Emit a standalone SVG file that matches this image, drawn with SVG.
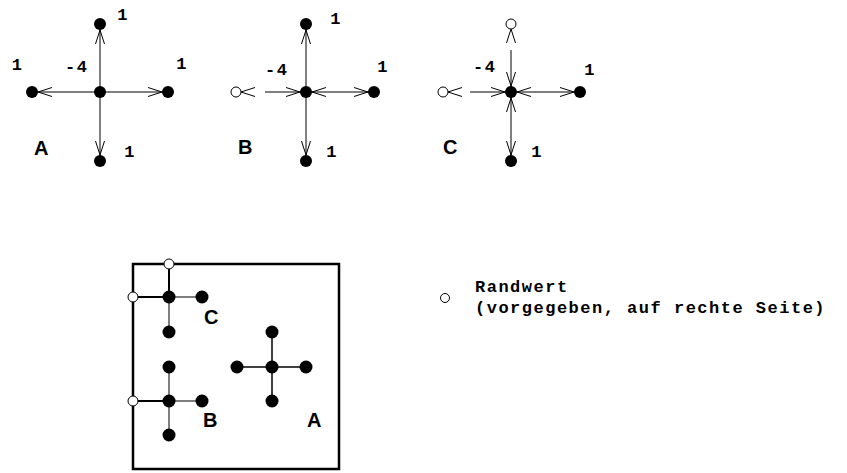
<svg xmlns="http://www.w3.org/2000/svg" xmlns:xlink="http://www.w3.org/1999/xlink" width="847" height="473" viewBox="0 0 847 473">
<style>
.bg{fill:#fff}
.ln{stroke:#000;stroke-width:1;fill:none}
.lnb{stroke:#000;stroke-width:2;fill:none}
.lng{stroke:#555;stroke-width:1.5;fill:none}
.dot{fill:#000}
.open{fill:#fff;stroke:#000;stroke-width:1}
.num{font-family:"Liberation Mono","Courier New",monospace;font-weight:bold;font-size:17px;letter-spacing:1.5px;fill:#000}
.lab{font-family:"Liberation Sans",Arial,sans-serif;font-weight:bold;font-size:20px;fill:#000}
.box{fill:none;stroke:#000;stroke-width:2.5}
</style>
<defs>
<path id="chev" d="M-14,-4.5 L0,0 L-14,4.5" fill="none" stroke="#000" stroke-width="1"/>
</defs>
<rect class="bg" width="847" height="473"/>

<g id="connectors">
  <!-- A -->
  <line class="ln" x1="100" y1="24" x2="100" y2="161"/>
  <line class="ln" x1="32" y1="92" x2="168" y2="92"/>
  <use xlink:href="#chev" transform="translate(100,30) rotate(-90)"/>
  <use xlink:href="#chev" transform="translate(38,92) rotate(180)"/>
  <use xlink:href="#chev" transform="translate(162,92)"/>
  <use xlink:href="#chev" transform="translate(100,155) rotate(90)"/>
  <!-- B -->
  <line class="ln" x1="306" y1="24" x2="306" y2="161"/>
  <line class="ln" x1="265" y1="92" x2="374" y2="92"/>
  <use xlink:href="#chev" transform="translate(306,30) rotate(-90)"/>
  <use xlink:href="#chev" transform="translate(241,92) rotate(180)"/>
  <use xlink:href="#chev" transform="translate(368,92)"/>
  <use xlink:href="#chev" transform="translate(306,155) rotate(90)"/>
  <use xlink:href="#chev" transform="translate(300,92)"/>
  <use xlink:href="#chev" transform="translate(312,92) rotate(180)"/>
  <!-- C -->
  <line class="ln" x1="511" y1="50" x2="511" y2="161"/>
  <line class="ln" x1="470" y1="92" x2="580" y2="92"/>
  <use xlink:href="#chev" transform="translate(511,29) rotate(-90)"/>
  <use xlink:href="#chev" transform="translate(448,92) rotate(180)"/>
  <use xlink:href="#chev" transform="translate(574,92)"/>
  <use xlink:href="#chev" transform="translate(511,155) rotate(90)"/>
  <use xlink:href="#chev" transform="translate(505,92)"/>
  <use xlink:href="#chev" transform="translate(517,92) rotate(180)"/>
  <use xlink:href="#chev" transform="translate(511,86) rotate(90)"/>
  <use xlink:href="#chev" transform="translate(511,98) rotate(-90)"/>
  <!-- bottom panel -->
  <line class="lnb" x1="169" y1="264" x2="169" y2="297"/>
  <line class="lnb" x1="133" y1="297" x2="169" y2="297"/>
  <line class="lng" x1="169" y1="297" x2="202" y2="297"/>
  <line class="lng" x1="169" y1="297" x2="169" y2="332"/>
  <line class="lnb" x1="133" y1="401" x2="169" y2="401"/>
  <line class="lng" x1="169" y1="401" x2="202" y2="401"/>
  <line class="lng" x1="169" y1="367" x2="169" y2="435"/>
  <line class="ln" x1="272" y1="332" x2="272" y2="401" style="stroke-width:1.5"/>
  <line class="ln" x1="237" y1="367" x2="306" y2="367" style="stroke-width:1.5"/>
</g>

<g id="stencilA">
  <circle class="dot" cx="100" cy="92" r="6"/>
  <circle class="dot" cx="100" cy="24" r="6"/>
  <circle class="dot" cx="32" cy="92" r="6"/>
  <circle class="dot" cx="168" cy="92" r="6"/>
  <circle class="dot" cx="100" cy="161" r="6"/>
  <text class="num" x="123" y="20" text-anchor="middle">1</text>
  <text class="num" x="17.5" y="70" text-anchor="middle">1</text>
  <text class="num" x="182" y="69" text-anchor="middle">1</text>
  <text class="num" x="130" y="157" text-anchor="middle">1</text>
  <text class="num" x="65" y="72">-4</text>
  <text class="lab" x="34" y="155">A</text>
</g>

<g id="stencilB">
  <circle class="dot" cx="306" cy="92" r="6"/>
  <circle class="dot" cx="306" cy="24" r="6"/>
  <circle class="open" cx="236" cy="92" r="5"/>
  <circle class="dot" cx="374" cy="92" r="6"/>
  <circle class="dot" cx="306" cy="161" r="6"/>
  <text class="num" x="336" y="24" text-anchor="middle">1</text>
  <text class="num" x="383" y="72" text-anchor="middle">1</text>
  <text class="num" x="332" y="157" text-anchor="middle">1</text>
  <text class="num" x="265" y="75">-4</text>
  <text class="lab" x="238" y="154">B</text>
</g>

<g id="stencilC">
  <circle class="dot" cx="511" cy="92" r="6"/>
  <circle class="open" cx="511" cy="24" r="5"/>
  <circle class="open" cx="443" cy="92" r="5"/>
  <circle class="dot" cx="580" cy="92" r="6"/>
  <circle class="dot" cx="511" cy="161" r="6"/>
  <text class="num" x="590" y="75" text-anchor="middle">1</text>
  <text class="num" x="537" y="157" text-anchor="middle">1</text>
  <text class="num" x="473" y="72">-4</text>
  <text class="lab" x="443" y="154">C</text>
</g>

<g id="domain">
  <rect class="box" x="133" y="264" width="206" height="205"/>
</g>

<g id="gridC">
  <circle class="dot" cx="169" cy="297" r="6.5"/>
  <circle class="open" cx="169" cy="264" r="5"/>
  <circle class="open" cx="133" cy="297" r="5"/>
  <circle class="dot" cx="202" cy="297" r="6.5"/>
  <circle class="dot" cx="169" cy="332" r="6.5"/>
  <text class="lab" x="204" y="324">C</text>
</g>

<g id="gridB">
  <circle class="dot" cx="169" cy="401" r="6.5"/>
  <circle class="dot" cx="169" cy="367" r="6.5"/>
  <circle class="open" cx="133" cy="401" r="5"/>
  <circle class="dot" cx="202" cy="401" r="6.5"/>
  <circle class="dot" cx="169" cy="435" r="6.5"/>
  <text class="lab" x="203" y="427">B</text>
</g>

<g id="gridA">
  <circle class="dot" cx="272" cy="367" r="6.5"/>
  <circle class="dot" cx="272" cy="332" r="6.5"/>
  <circle class="dot" cx="237" cy="367" r="6.5"/>
  <circle class="dot" cx="306" cy="367" r="6.5"/>
  <circle class="dot" cx="272" cy="401" r="6.5"/>
  <text class="lab" x="307" y="427">A</text>
</g>

<g id="legend">
  <circle class="open" cx="445" cy="298" r="4.5"/>
  <text class="num" x="475" y="292">Randwert</text>
  <text class="num" x="475" y="313">(vorgegeben, auf rechte Seite)</text>
</g>
</svg>
